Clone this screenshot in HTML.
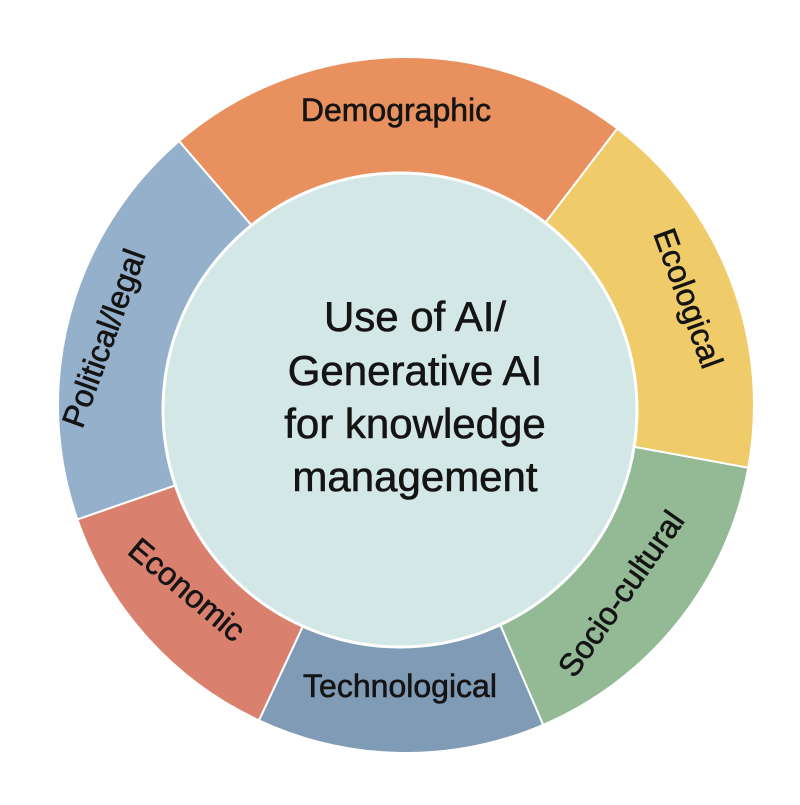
<!DOCTYPE html>
<html><head><meta charset="utf-8"><style>
html,body{margin:0;padding:0;background:#fff;}
svg text{font-family:"Liberation Sans",sans-serif;fill:#141414;stroke:#141414;stroke-width:0.6;}
</style></head><body>
<svg id="s" width="800" height="800" viewBox="0 0 800 800">
<g id="segs"></g>
<circle cx="400" cy="410" r="237" fill="#D4E7E7" stroke="#fff" stroke-width="3"/>
<text x="396" y="121" font-size="32" text-anchor="middle">Demographic</text>
<text transform="translate(678,302) rotate(70)" font-size="32" text-anchor="middle">Ecological</text>
<text transform="translate(630,600) rotate(-55)" font-size="32" text-anchor="middle">Socio-cultural</text>
<text x="400" y="697" font-size="32" text-anchor="middle">Technological</text>
<text transform="translate(180,598) rotate(40)" font-size="32" text-anchor="middle">Economic</text>
<text transform="translate(114,342) rotate(-70)" font-size="32" text-anchor="middle">Political/legal</text>
<g font-size="42" text-anchor="middle">
<text x="415" y="331">Use of AI/</text>
<text x="415" y="385">Generative AI</text>
<text x="415" y="438">for knowledge</text>
<text x="415" y="491">management</text>
</g>
</svg>
<script>
var cx=406,cy=405,R=348;
var segs=[[229.3,307.4,"#E8915F"],[307.4,370.4,"#EFCB6A"],[10.4,66.8,"#93BA95"],[66.8,115,"#7F9BB5"],[115,160.8,"#D9816E"],[160.8,229.3,"#94B0CB"]];
var g=document.getElementById("segs"),h="";
segs.forEach(function(s){
var a=s[0]*Math.PI/180,b=s[1]*Math.PI/180;
var x1=cx+R*Math.cos(a),y1=cy+R*Math.sin(a),x2=cx+R*Math.cos(b),y2=cy+R*Math.sin(b);
h+='<path d="M'+cx+','+cy+' L'+x1+','+y1+' A'+R+','+R+' 0 0 1 '+x2+','+y2+' Z" fill="'+s[2]+'" stroke="#fff" stroke-width="2"/>';
});
g.innerHTML=h;
</script>
</body></html>
